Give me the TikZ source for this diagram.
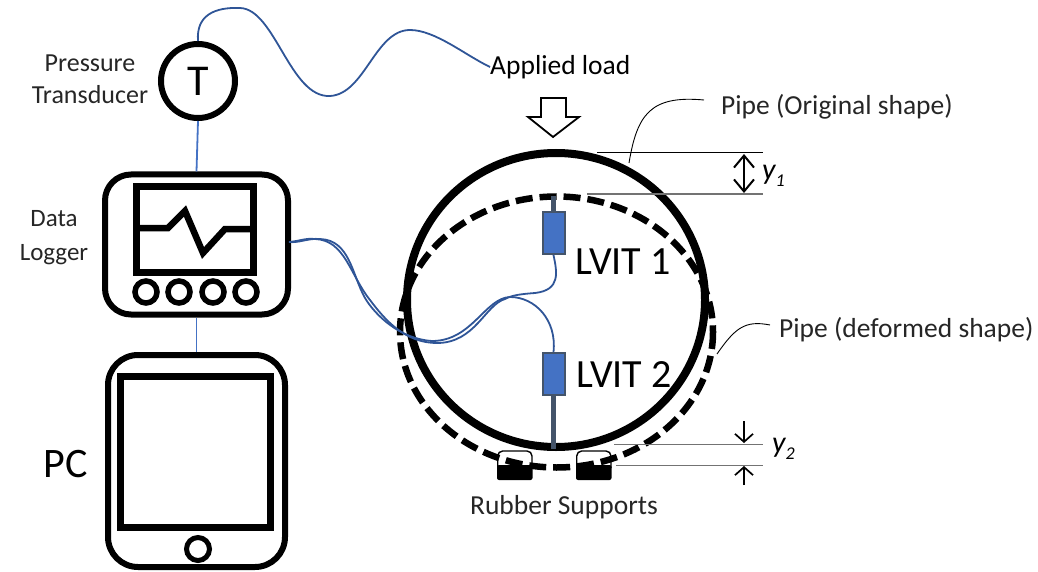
\documentclass[tikz,border=0pt]{standalone}
\usepackage{fontspec}
\setmainfont{Carlito}
\usetikzlibrary{arrows.meta,shapes.geometric}
\definecolor{wireblue}{HTML}{2F5597}
\definecolor{linkblue}{HTML}{4472C4}
\definecolor{rodgray}{HTML}{44546A}
\tikzset{
    iconbox/.style={draw,line width=6pt,rounded corners=26pt,inner sep=0pt},
    screenbox/.style={draw,line width=7pt,inner sep=0pt},
    knob/.style={draw,circle,line width=5.5pt,minimum size=22pt,inner sep=0pt},
    lvitbody/.style={draw=rodgray,fill=linkblue,line width=2pt,minimum width=22pt,minimum height=42pt,inner sep=0pt},
    rod/.style={rodgray,line width=4.5pt},
    wire/.style={wireblue,line width=1.8pt},
    leader/.style={black,line width=0.9pt},
    dimline/.style={black,line width=0.9pt},
    lbl/.style={inner sep=0pt,text=black!85,font=\fontsize{27.5}{32}\selectfont}
}
\begin{document}
\begin{tikzpicture}[x=1pt,y=-1pt]
    \useasboundingbox (0,0) rectangle (1038,572);
    % left column
    \node[draw,circle,line width=6pt,minimum size=74pt,inner sep=0pt,font=\fontsize{44}{44}\selectfont] (transducer) at (198,81) {T};
    \node[iconbox,minimum width=183pt,minimum height=140pt] (logger) at (196.5,244.5) {};
    \node[iconbox,rounded corners=30pt,minimum width=177pt,minimum height=212pt] (tablet) at (196.5,461) {};
    \node[screenbox,minimum width=117pt,minimum height=86pt] (loggerscreen) at (195,229.5) {};
    \node[screenbox,minimum width=150pt,minimum height=151pt] (tabletscreen) at (195.5,452) {};
    \node[draw,circle,line width=5pt,minimum size=23pt,inner sep=0pt] (homebtn) at (198,549) {};
    \draw[line width=6.5pt,miter limit=2] (140,228) -- (168,228) -- (185,211) -- (203,253) -- (225,229) -- (251,229);
    \foreach \x/\name in {146/a,179/b,213/c,246/d} {
        \node[knob] (knob\name) at (\x,292) {};
    }
    \draw[linkblue,line width=1.8pt] (transducer.south) -- (logger.north);
    \draw[linkblue,line width=1.8pt] (logger.south) -- (tablet.north);
    \node[lbl,align=center,font=\fontsize{26}{32}\selectfont] (transducerlbl) at (90,79) {Pressure\\Transducer};
    \node[lbl,align=center,font=\fontsize{25}{34}\selectfont] (loggerlbl) at (54,238) {Data\\Logger};
    \node[lbl,text=black,font=\fontsize{42}{42}\selectfont] (pclbl) at (66,464) {PC};
    % rubber supports, under the deformed pipe
    \foreach \x/\name in {497/left,576/right} {
        \fill[rounded corners=2pt] (\x,465) rectangle (\x+35.5,480);
        \draw[line width=1.4pt,rounded corners=5pt] (\x+0.7,468) -- (\x+0.7,451) -- (\x+35,451) -- (\x+35,468);
    }
    % pipe, both shapes
    \node[draw,ellipse,line width=8pt,minimum width=298pt,minimum height=294pt,inner sep=0pt] (pipe) at (556,300) {};
    \draw[line width=6.5pt,dash pattern=on 17pt off 7pt] (556.5,332) ellipse [x radius=156.5,y radius=135.5];
    % the two sensors
    \node[lvitbody] (lvita) at (553.5,233) {};
    \node[lvitbody] (lvitb) at (553.5,374) {};
    \coordinate (roda) at (553.5,196);
    \coordinate (rodb) at (553.5,449);
    \draw[rod] (lvita.north) -- (roda);
    \draw[rod] (lvitb.south) -- (rodb);
    \node[lbl,anchor=west,text=black,font=\fontsize{40}{40}\selectfont] (lvitalbl) at (575,262) {LVIT 1};
    \node[lbl,anchor=west,text=black,font=\fontsize{40}{40}\selectfont] (lvitblbl) at (576,375) {LVIT 2};
    % wires
    \coordinate (loggerpt) at (289,242);
    \draw[wire] (lvita.south) .. controls (557,272) and (561,290) .. (535,293)
        .. controls (522,294) and (512,295) .. (505,299)
        .. controls (485,305) and (475,343) .. (437,343)
        .. controls (405,343) and (385,320) .. (370,300)
        .. controls (350,275) and (345,240) .. (315,239)
        .. controls (305,238) and (300,241) .. (loggerpt);
    \draw[wire] (lvitb.north) .. controls (557,320) and (535,297) .. (510,297)
        .. controls (485,298) and (472,341) .. (432,341)
        .. controls (400,339) and (375,315) .. (365,298)
        .. controls (352,275) and (350,240) .. (320,239)
        .. controls (308,238) and (300,243) .. (loggerpt);
    \node[lbl,anchor=west,text=black] (loadlbl) at (490,67) {Applied load};
    \draw[wire] (transducer.north) .. controls (196,15) and (215,7) .. (240,8)
        .. controls (275,9) and (290,98) .. (330,96)
        .. controls (365,94) and (375,30) .. (410,30)
        .. controls (435,30) and (465,55) .. (loadlbl.west);
    % load arrow
    \draw[line width=1.8pt,fill=white] (541,98) -- (566,98) -- (566,117) -- (579,117) -- (553,137) -- (528,117) -- (541,117) -- cycle;
    % leaders
    \node[lbl,anchor=west] (origlbl) at (721,107) {Pipe (Original shape)};
    \node[lbl,anchor=west] (deflbl) at (779,330) {Pipe (deformed shape)};
    \coordinate (origend) at (629,163);
    \coordinate (origstart) at (704,100);
    \coordinate (defend) at (717,354);
    \coordinate (defstart) at (770,325);
    \draw[leader] (origend) .. controls (637,115) and (650,95) .. (origstart);
    \draw[leader] (defend) .. controls (735,328) and (745,320) .. (defstart);
    % dimensions
    \coordinate (ya) at (597,152);
    \coordinate (yaend) at (763,152);
    \coordinate (yb) at (587,194);
    \coordinate (ybend) at (763,194);
    \coordinate (yc) at (614,444);
    \coordinate (ycend) at (763,444);
    \coordinate (yd) at (616,465);
    \coordinate (ydend) at (763,465);
    \draw[dimline] (ya) -- (yaend);
    \draw[dimline,gray!90!black,line width=1.4pt] (yb) -- (ybend);
    \draw[dimline,gray!90!black] (yc) -- (ycend);
    \draw[dimline,gray!90!black] (yd) -- (ydend);
    \draw[{Straight Barb[length=12pt,width=20pt]}-{Straight Barb[length=12pt,width=20pt]},line width=2pt] (744,154) -- (744,193);
    \draw[-{Straight Barb[length=8pt,width=18pt]},line width=1.7pt] (744,421) -- (744,443);
    \draw[-{Straight Barb[length=8pt,width=18pt]},line width=1.7pt] (744,485) -- (744,466);
    \node[lbl,anchor=west,text=black,font=\fontsize{30}{30}\selectfont\itshape] (yalbl) at (762,176) {y\raisebox{-7pt}{\fontsize{18}{18}\selectfont 1}};
    \node[lbl,anchor=west,text=black,font=\fontsize{30}{30}\selectfont\itshape] (yblbl) at (772,449) {y\raisebox{-7pt}{\fontsize{18}{18}\selectfont 2}};
    \node[lbl] (supportlbl) at (564,507) {Rubber Supports};
\end{tikzpicture}
\end{document}
